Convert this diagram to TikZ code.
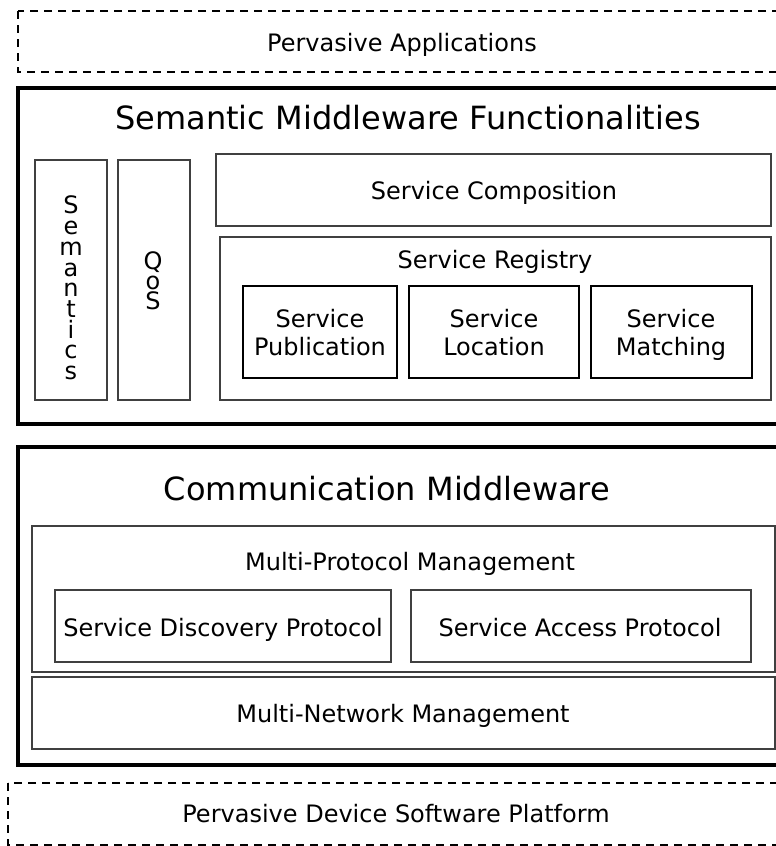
\documentclass[tikz,border=0pt]{standalone}
\usepackage{fontspec}
\setmainfont{DejaVu Sans}
\usepackage{tikz}
\usetikzlibrary{positioning}

\tikzset{
  dashedbox/.style={draw, line width=0.8pt, dash pattern=on 4pt off 3pt},
  layerbox/.style={draw, line width=1.6pt},
  compbox/.style={draw=black!75, line width=0.6pt},
  lbl/.style={font=\fontsize{12}{14}\selectfont, align=center, inner sep=0pt, text depth=2.6pt},
  vlbl/.style={align=center, inner sep=0pt},
  title/.style={font=\fontsize{16}{19}\selectfont, inner sep=0pt},
}

\begin{document}
\begin{tikzpicture}[x=0.5pt, y=-0.5pt]
  \useasboundingbox (0,0) rectangle (776,846);
  \clip (0,0) rectangle (776,846);

  % top and bottom layers
  \draw[dashedbox] (18,11) rectangle (800,72);
  \node[lbl] (apps) at (402,45) {Pervasive Applications};
  \draw[dashedbox] (8,783) rectangle (800,845);
  \node[lbl] (platform) at (396,816) {Pervasive Device Software Platform};

  % semantic middleware
  \draw[layerbox] (18,88) rectangle (800,424);
  \node[title] (semmw) at (408,118) {Semantic Middleware Functionalities};
  \draw[compbox] (35,160) rectangle (107,400);
  \node[vlbl, font=\fontsize{12}{10.35}\selectfont] (sem) at (71,288) {S\\e\\m\\a\\n\\t\\i\\c\\s};
  \draw[compbox] (118,160) rectangle (190,400);
  \node[vlbl, font=\fontsize{12}{10}\selectfont] (qos) at (153,281) {Q\\o\\S};
  \draw[compbox] (216,154) rectangle (771,226);
  \node[lbl] (scomp) at (494,193) {Service Composition};
  \draw[compbox] (220,237) rectangle (771,400);
  \node[lbl] (sreg) at (495,262) {Service Registry};
  \draw[compbox, draw=black] (243,286) rectangle (397,378);
  \node[lbl] (spub) at (320,335) {Service\\Publication};
  \draw[compbox, draw=black] (409,286) rectangle (579,378);
  \node[lbl] (sloc) at (494,335) {Service\\Location};
  \draw[compbox, draw=black] (591,286) rectangle (752,378);
  \node[lbl] (smatch) at (671,335) {Service\\Matching};

  % communication middleware
  \draw[layerbox] (18,447) rectangle (800,765);
  \node[title] (commw) at (387,489) {Communication Middleware};
  \draw[compbox] (32,526) rectangle (775,672);
  \node[lbl] (mpm) at (410,564) {Multi-Protocol Management};
  \draw[compbox] (55,590) rectangle (391,662);
  \node[lbl] (sdp) at (223,630) {Service Discovery Protocol};
  \draw[compbox] (411,590) rectangle (751,662);
  \node[lbl] (sap) at (580,630) {Service Access Protocol};
  \draw[compbox] (32,677) rectangle (775,749);
  \node[lbl] (mnm) at (403,716) {Multi-Network Management};
\end{tikzpicture}
\end{document}
